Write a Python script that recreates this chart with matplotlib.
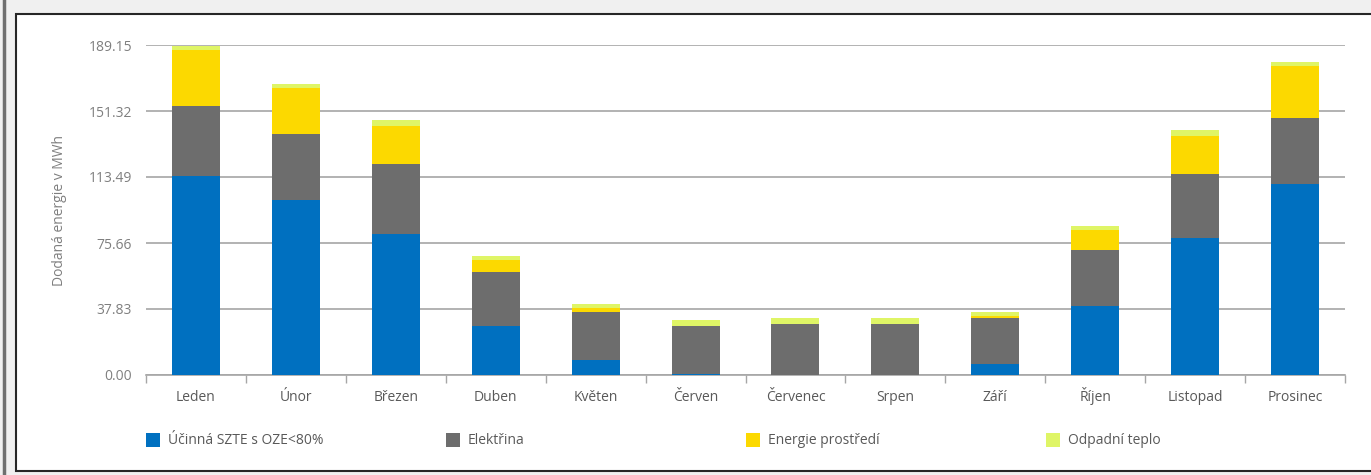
"""stacked monthly bars of delivered energy"""
import matplotlib
matplotlib.use("Agg")
import matplotlib.pyplot as plt
import numpy as np
from matplotlib.patches import Rectangle
from matplotlib.lines import Line2D

plt.rcParams['font.family'] = ['Open Sans', 'DejaVu Sans']

months = ['Leden', 'Únor', 'Březen', 'Duben', 'Květen', 'Červen',
          'Červenec', 'Srpen', 'Září', 'Říjen', 'Listopad', 'Prosinec']
szte = [114.2, 100.3, 80.8, 28.1, 8.6, 0.6, 0.0, 0.0, 6.3, 39.6, 78.5, 109.5]
elektrina = [40.1, 37.8, 40.1, 30.9, 27.5, 27.5, 29.2, 29.2, 26.4, 32.1, 36.7, 37.8]
prostredi = [32.1, 26.4, 21.8, 6.9, 2.3, 0.0, 0.0, 0.0, 1.1, 11.5, 21.8, 29.8]
odpadni = [2.3, 2.3, 3.4, 2.3, 2.3, 3.4, 3.4, 3.4, 2.3, 2.3, 3.4, 2.3]
yticks = [0.00, 37.83, 75.66, 113.49, 151.32, 189.15]

series = [
    ('Účinná SZTE s OZE<80%', szte, '#0070c0'),
    ('Elektřina', elektrina, '#6d6d6d'),
    ('Energie prostředí', prostredi, '#fcd900'),
    ('Odpadní teplo', odpadni, '#dff566'),
]

txt = '#7f7f7f'
grid = '#a6a6a6'

fig = plt.figure(figsize=(13.71, 4.75), dpi=100)
fig.patch.set_facecolor('#f0f0f0')
# white panel with dark frame
fig.patches.append(Rectangle((16 / 1371, 4 / 475), 1.0, 457 / 475,
                             transform=fig.transFigure, facecolor='white',
                             edgecolor='#262626', linewidth=1.5, zorder=-10))
fig.lines.append(Line2D([3.5 / 1371, 3.5 / 1371], [0, 1], transform=fig.transFigure,
                        color='#6f6f6f', linewidth=2.5, zorder=-10))

ax = fig.add_axes([146 / 1371, 1 - 375 / 475, 1199 / 1371, 330 / 475])
ax.set_facecolor('none')
ax.set_zorder(5)

x = np.arange(len(months))
bottom = np.zeros(len(months))
for name, vals, col in series:
    ax.bar(x, vals, width=0.48, bottom=bottom, color=col, label=name, zorder=3)
    bottom += np.array(vals)

ax.set_xlim(-0.5, len(months) - 0.5)
ax.set_ylim(0, 189.15)
ax.set_yticks(yticks)
ax.set_yticklabels(['%.2f' % v for v in yticks])
ax.set_xticks(x)
ax.set_xticklabels(months, va='baseline')
ax.set_xticks(np.arange(-0.5, len(months)), minor=True)
ax.tick_params(axis='x', which='major', length=0, pad=18.5, labelsize=10, labelcolor='#595959')
ax.tick_params(axis='x', which='minor', length=6, color=grid, width=1)
ax.tick_params(axis='y', length=0, pad=10, labelsize=10, labelcolor=txt)
ax.yaxis.grid(True, color=grid, linewidth=1.2, zorder=0)
ax.set_axisbelow(True)
for s in ['top', 'right', 'left']:
    ax.spines[s].set_visible(False)
ax.spines['bottom'].set_color(grid)
ax.spines['bottom'].set_linewidth(1.2)
ax.set_ylabel('Dodaná energie v MWh', fontsize=10, color=txt)
ax.yaxis.set_label_coords(-0.066, 0.5)

# legend entries laid out like the original
for i, (name, vals, col) in enumerate(series):
    x0 = (146 + 300 * i) / 1371
    fig.patches.append(Rectangle((x0, 1 - 447 / 475), 14 / 1371, 14 / 475,
                                 transform=fig.transFigure, facecolor=col, zorder=2))
    fig.text(x0 + 22 / 1371, 1 - 440 / 475, name, fontsize=10, color='#595959',
             va='center', ha='left')

fig.savefig('out.png', dpi=100, facecolor=fig.get_facecolor())
